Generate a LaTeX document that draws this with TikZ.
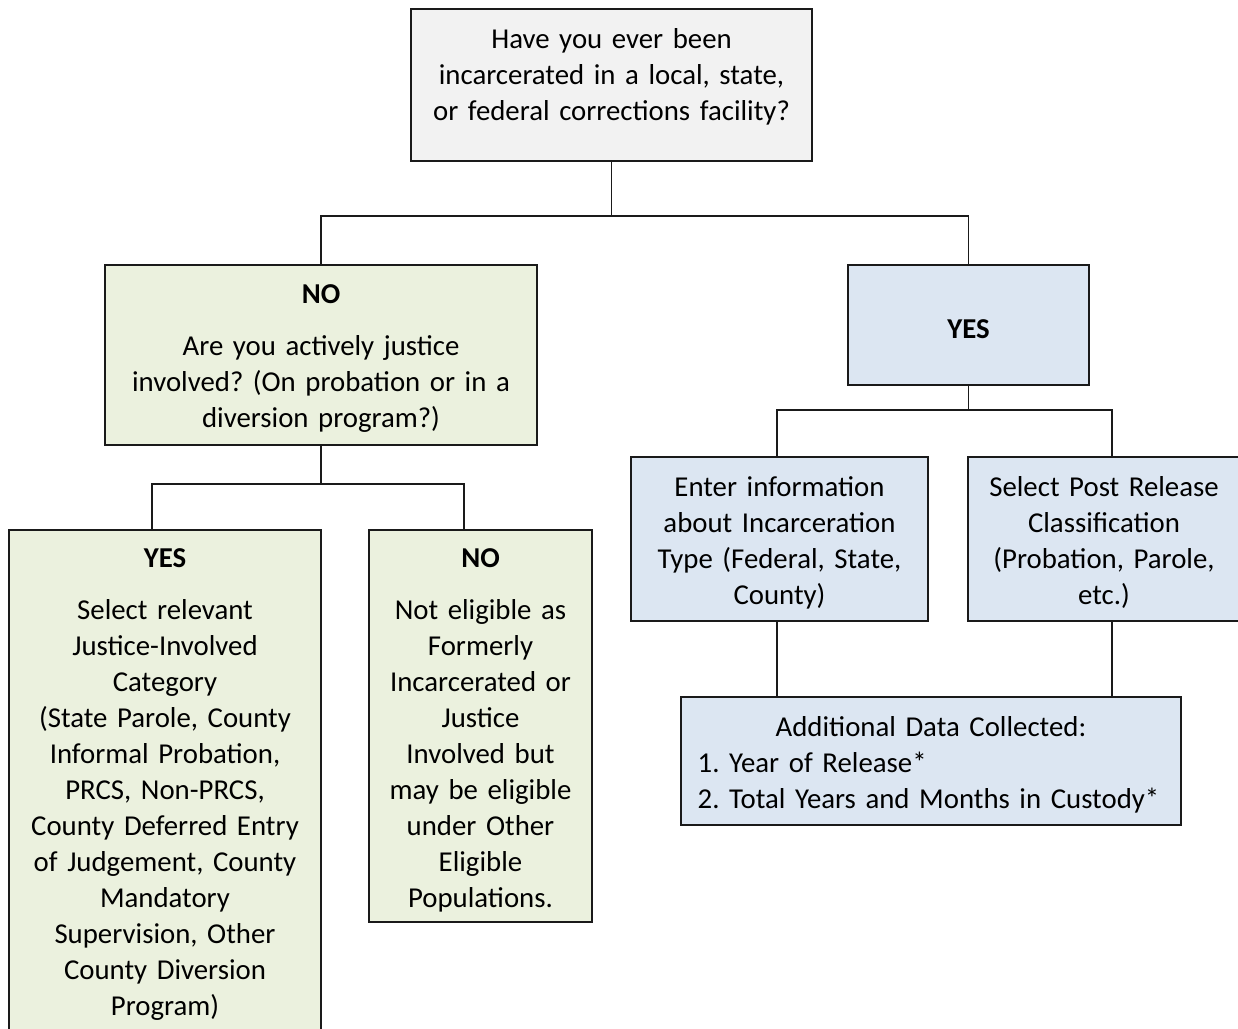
\documentclass[tikz,border=0pt]{standalone}
\usepackage{fontspec}
\setmainfont{Carlito}
\definecolor{boxgray}{HTML}{F2F2F2}
\definecolor{boxgreen}{HTML}{EBF1DE}
\definecolor{boxblue}{HTML}{DCE6F2}
\definecolor{boxline}{HTML}{1A1A1A}

\begin{document}
\frenchspacing
\begin{tikzpicture}[x=0.75pt,y=-0.75pt,
    box/.style={draw=boxline,line width=1.4pt,inner sep=0pt,align=center,
      font=\fontsize{21.6}{27}\selectfont,
      execute at begin node={\rule{0pt}{20pt}}},
    link/.style={draw=boxline,line width=1.1pt}]

  \useasboundingbox (0,0) rectangle (1238,1028);
  \clip (0,0) rectangle (1238,1028);

  \begin{scope}[every node/.style={box}]
    \node[fill=boxgray,minimum width=300.75pt,minimum height=114pt,text width=290pt] (q) at (611.5,85)
      {Have you ever been\\incarcerated in a local, state,\\or federal corrections facility?\rule[-21.5pt]{0pt}{0pt}};

    \node[fill=boxgreen,minimum width=324pt,minimum height=135pt,text width=310pt] (nol) at (321,355)
      {\textbf{NO}\\[12pt]Are you actively justice\\involved? (On probation or in a\\diversion program?)};
    \node[fill=boxblue,minimum width=180.75pt,minimum height=90pt,text width=170pt] (yesr) at (968.5,325)
      {\textbf{YES}};

    \node[fill=boxgreen,minimum width=234pt,minimum height=376.5pt,text width=226pt] (yesj) at (165,781)
      {\textbf{YES}\\[12pt]Select relevant\\Justice-Involved\\Category\\(State Parole, County\\Informal Probation,\\PRCS, Non-PRCS,\\County Deferred Entry\\of Judgement, County\\Mandatory\\Supervision, Other\\County Diversion\\Program)};
    \node[fill=boxgreen,minimum width=167.25pt,minimum height=294pt,text width=160pt] (noe) at (480.5,726)
      {\textbf{NO}\\[12pt]Not eligible as\\Formerly\\Incarcerated or\\Justice\\Involved but\\may be eligible\\under Other\\Eligible\\Populations.};

    \node[fill=boxblue,minimum width=222.75pt,minimum height=123pt,text width=215pt] (inc) at (779.5,539)
      {Enter information\\about Incarceration\\Type (Federal, State,\\County)};
    \node[fill=boxblue,minimum width=204pt,minimum height=123pt,text width=196pt] (post) at (1104,539)
      {Select Post Release\\Classification\\(Probation, Parole,\\etc.)};

    \node[fill=boxblue,minimum width=375pt,minimum height=96pt,text width=350pt,align=left] (add) at (931,761)
      {\centering Additional Data Collected:\par\raggedright\hyphenpenalty=10000 1. Year of Release*\\2. Total Years and Months in Custody*};
  \end{scope}

  \draw[link] (q.south) -- ++(0,54) -| (nol.north);
  \draw[link] (q.south) -- ++(0,54) -| (yesr.north);

  \draw[link] (nol.south) -- ++(0,38) -| ([xshift=-9.75pt]yesj.north);
  \draw[link] (nol.south) -- ++(0,38) -| ([xshift=-12.4pt]noe.north);

  \draw[link] (yesr.south) -- ++(0,24) -| ([xshift=-1.9pt]inc.north);
  \draw[link] (yesr.south) -- ++(0,24) -| ([xshift=6pt]post.north);

  \draw[link] ([xshift=-1.9pt]inc.south) -- ([xshift=-1.9pt]inc.south |- add.north);
  \draw[link] ([xshift=6pt]post.south) -- ([xshift=6pt]post.south |- add.north);

\end{tikzpicture}
\end{document}
